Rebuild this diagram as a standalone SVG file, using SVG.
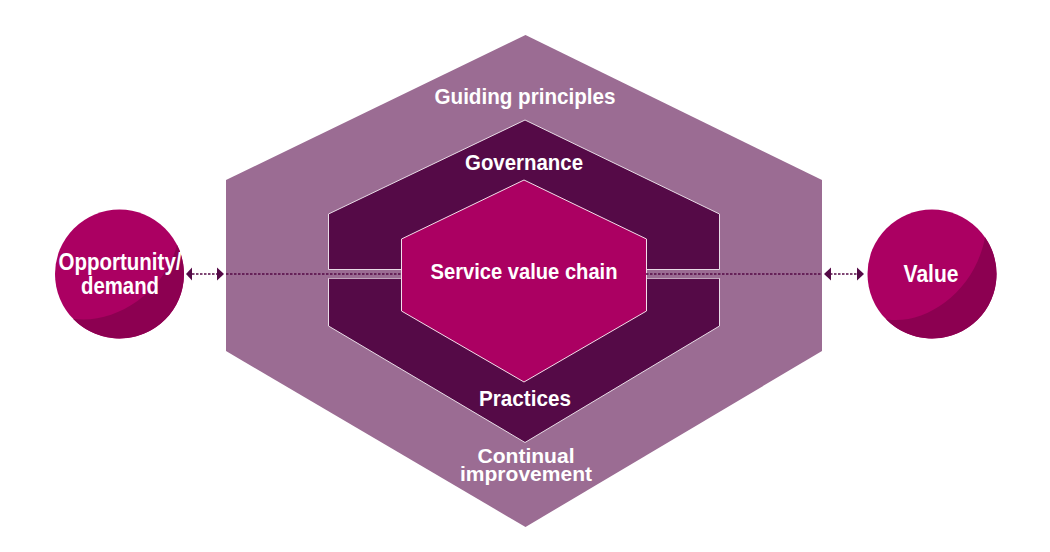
<svg xmlns="http://www.w3.org/2000/svg" width="1050" height="552" viewBox="0 0 1050 552">
<style>
.t{font-family:"Liberation Sans",Arial,sans-serif;font-weight:700;fill:#fff;text-anchor:middle;font-size:22px}
.s{font-size:20px}
.m{font-size:23px}
.ball{fill:#ab0062}
.shade{fill:#8c0051}
.link{fill:none;stroke:#550a47;stroke-width:1.4;stroke-dasharray:2.5 1.5}
.head{fill:#550a47}
</style>
<rect width="1050" height="552" fill="#fff"/>
<g id="guiding-principles">
<polygon points="525.500,35 822,180 822,351 525.500,527 226,351 226,180" fill="#9b6c93"/>
<text class="t" x="525" y="104" textLength="181" lengthAdjust="spacingAndGlyphs">Guiding principles</text>
<text class="t s" x="526" y="463" textLength="97" lengthAdjust="spacingAndGlyphs">Continual</text>
<text class="t s" x="526" y="481" textLength="132" lengthAdjust="spacingAndGlyphs">improvement</text>
</g>
<g id="governance">
<polygon points="525,120 719.500,214 719.500,269.500 646,269.500 646,278.500 719.500,278.500 719.500,326 525,442.500 328.500,326 328.500,278.500 402,278.500 402,269.500 328.500,269.500 328.500,214" fill="#550a47" stroke="#e8dce6" stroke-width="1"/>
<rect x="329" y="270" width="73" height="8.500" fill="#9b6c93"/>
<rect x="646" y="270" width="73" height="8.500" fill="#9b6c93"/>
<text class="t" x="524" y="170" textLength="118" lengthAdjust="spacingAndGlyphs">Governance</text>
<text class="t" x="525" y="406" textLength="92" lengthAdjust="spacingAndGlyphs">Practices</text>
</g>
<g id="service-value-chain">
<polygon points="524,180 646.500,239 646.500,311 524,382 401.500,311 401.500,239" fill="#ab0062" stroke="#f3dfea" stroke-width="1"/>
<text class="t" x="524" y="279" textLength="187" lengthAdjust="spacingAndGlyphs">Service value chain</text>
</g>
<g id="opportunity-demand">
<circle class="ball" cx="119.500" cy="274" r="64.500"/>
<path class="shade" d="M177 244.800 A64.500 64.500 0 0 1 73 318.700 C115 325 165 292 177 244.800 Z"/>
<text class="t m" x="120" y="270" textLength="123" lengthAdjust="spacingAndGlyphs">Opportunity/</text>
<text class="t m" x="120" y="294" textLength="78" lengthAdjust="spacingAndGlyphs">demand</text>
</g>
<g id="value">
<circle class="ball" cx="932" cy="274" r="64.500"/>
<path class="shade" d="M985 237.200 A64.500 64.500 0 0 1 886 319.200 C925 326 975 292 985 237.200 Z"/>
<text class="t m" x="931" y="282" textLength="55" lengthAdjust="spacingAndGlyphs">Value</text>
</g>
<g id="connectors">
<path class="link" d="M192 274 H218"/>
<path class="link" d="M226 274 H402"/>
<path class="link" d="M646 274 H822"/>
<path class="link" d="M830 274 H858"/>
<polygon class="head" points="186,274 192,267.500 192,280.500"/>
<polygon class="head" points="224,274 217,267.500 217,280.500"/>
<polygon class="head" points="824,274 831,267.500 831,280.500"/>
<polygon class="head" points="864,274 857,267.500 857,280.500"/>
</g>
</svg>
